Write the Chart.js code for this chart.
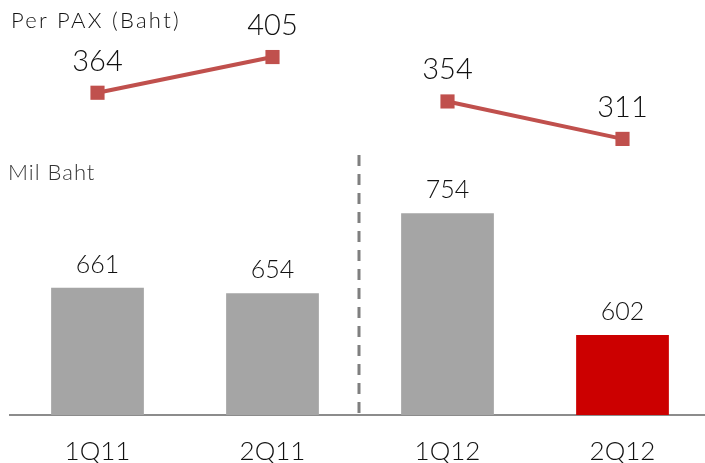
<!DOCTYPE html>
<html>
<head>
<meta charset="utf-8">
<script src="https://cdn.jsdelivr.net/npm/chart.js@4"></script>
<style>
    html, body { margin: 0; padding: 0; background: #fff; overflow: hidden; }
    #wrap { position: relative; width: 720px; height: 463px; }
    .note { position: absolute; font-family: Lato, sans-serif; font-weight: 300; color: #111; white-space: nowrap; }
</style>
</head>
<body>
<div id="wrap">
    <canvas id="revChart" width="720" height="463"></canvas>
    <div class="note" style="left:11px; top:6px; font-size:22px; letter-spacing:2.3px;">Per PAX (Baht)</div>
    <div class="note" style="left:8px; top:158px; font-size:22px; letter-spacing:1px; color:#333;">Mil Baht</div>
</div>
<script>
// Quarterly revenue (bars) and revenue per passenger (line)
const quarters = ['1Q11', '2Q11', '1Q12', '2Q12'];
const revenueMilBaht = [661, 654, 754, 602];
const perPax2011 = [364, 405, null, null];
const perPax2012 = [null, null, 354, 311];

const barColors = ['#a5a5a5', '#a5a5a5', '#a5a5a5', '#cc0000'];
const lineColor = '#c0504d';
const fontFamily = 'Lato, sans-serif';

// Value labels above bars and line points
const valueLabels = {
    id: 'valueLabels',
    afterDatasetsDraw(chart) {
        const ctx = chart.ctx;
        ctx.save();
        ctx.fillStyle = '#111';
        ctx.textAlign = 'center';
        ctx.textBaseline = 'alphabetic';
        chart.data.datasets.forEach((ds, i) => {
            const meta = chart.getDatasetMeta(i);
            const isLine = ds.type === 'line';
            ctx.font = '300 ' + (isLine ? 29 : 25) + 'px ' + fontFamily;
            meta.data.forEach((el, j) => {
                const v = ds.data[j];
                if (v === null || v === undefined) return;
                ctx.fillText(String(v), el.x, el.y - (isLine ? 22 : 15));
            });
        });
        ctx.restore();
    }
};

// Dashed divider between the two years
const yearDivider = {
    id: 'yearDivider',
    beforeDatasetsDraw(chart) {
        const x = chart.scales.x;
        const mid = (x.getPixelForValue(1) + x.getPixelForValue(2)) / 2 - 1;
        const ctx = chart.ctx;
        ctx.save();
        ctx.strokeStyle = '#7f7f7f';
        ctx.lineWidth = 3;
        ctx.setLineDash([11, 8]);
        ctx.beginPath();
        ctx.moveTo(mid, 155);
        ctx.lineTo(mid, chart.chartArea.bottom);
        ctx.stroke();
        ctx.restore();
    }
};

function lineSet(values) {
    return {
        type: 'line',
        data: values,
        yAxisID: 'y2',
        borderColor: lineColor,
        backgroundColor: lineColor,
        borderWidth: 4,
        pointStyle: 'rect',
        pointRadius: 10,
        pointBorderWidth: 0,
        order: 0
    };
}

new Chart(document.getElementById('revChart'), {
    data: {
        labels: quarters,
        datasets: [
            lineSet(perPax2011),
            lineSet(perPax2012),
            {
                type: 'bar',
                data: revenueMilBaht,
                yAxisID: 'y',
                backgroundColor: barColors,
                categoryPercentage: 1,
                barPercentage: 0.53,
                order: 1
            }
        ]
    },
    options: {
        responsive: false,
        animation: false,
        layout: { padding: { left: 8, right: 0, top: 10, bottom: 0 } },
        plugins: {
            legend: { display: false },
            tooltip: { enabled: false }
        },
        scales: {
            x: {
                grid: { display: false, drawTicks: false },
                border: { color: '#8c8c8c', width: 2 },
                ticks: { color: '#111', font: { family: fontFamily, size: 26, weight: 300 }, padding: 21 },
                afterFit(scale) { scale.height = 48; }
            },
            y: { display: false, min: 502, max: 1008 },
            y2: { display: false, min: -6, max: 459 }
        }
    },
    plugins: [valueLabels, yearDivider]
});
</script>
</body>
</html>
